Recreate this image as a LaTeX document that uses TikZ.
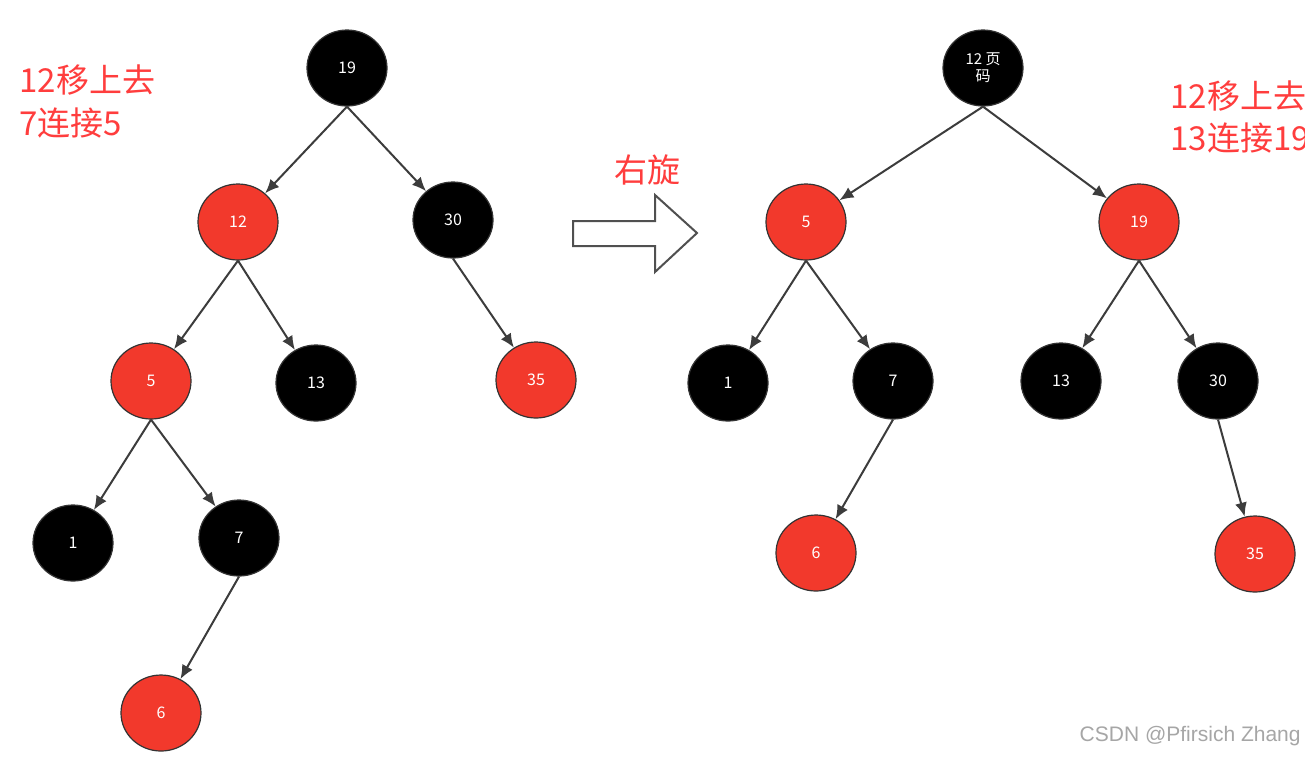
\documentclass[tikz,border=0pt]{standalone}
\usepackage{fontspec}
\setmainfont{Noto Sans CJK SC}
\newfontfamily\wmfont{Liberation Sans}
\usetikzlibrary{arrows.meta,shapes.geometric}
\definecolor{rbred}{HTML}{F2392C}
\definecolor{notered}{HTML}{FF3D3D}
\definecolor{edgegray}{HTML}{3C3C3C}
\tikzset{
    rbnode/.style={ellipse, minimum width=40pt, minimum height=38pt, inner sep=0pt,
        text=white, font=\fontsize{8}{9}\selectfont, draw=black!80, line width=0.6pt},
    blacknode/.style={rbnode, fill=black},
    rednode/.style={rbnode, fill=rbred},
    note/.style={text=notered, font=\fontsize{16.5}{21.5}\selectfont, align=left, inner sep=0pt},
    edge/.style={draw=edgegray, line width=1pt, -{Latex[length=7pt,width=6pt]}}
}
\begin{document}
\begin{tikzpicture}[x=0.5pt, y=-0.5pt]
    \useasboundingbox[fill=white] (0,0) rectangle (1305,757);

    % before the rotation
    \node[blacknode] (L19) at (347,68) {19};
    \node[rednode] (L12) at (238,222) {12};
    \node[blacknode] (L30) at (453,220) {30};
    \node[rednode] (L5) at (151,381) {5};
    \node[blacknode] (L13) at (316,383) {13};
    \node[rednode] (L35) at (536,380) {35};
    \node[blacknode] (L1) at (73,543) {1};
    \node[blacknode] (L7) at (239,538) {7};
    \node[rednode] (L6) at (161,713) {6};

    \draw[edge] (L19.south) -- (L12);
    \draw[edge] (L19.south) -- (L30);
    \draw[edge] (L12.south) -- (L5);
    \draw[edge] (L12.south) -- (L13);
    \draw[edge] (L30.south) -- (L35);
    \draw[edge] (L5.south) -- (L1);
    \draw[edge] (L5.south) -- (L7);
    \draw[edge] (L7.south) -- (L6);

    % after the rotation
    \node[blacknode, align=center, font=\fontsize{7.5}{8.5}\selectfont] (R12) at (983,68) {12 页\\码};
    \node[rednode] (R5) at (806,222) {5};
    \node[rednode] (R19) at (1139,222) {19};
    \node[blacknode] (R1) at (728,383) {1};
    \node[blacknode] (R7) at (893,381) {7};
    \node[blacknode] (R13) at (1061,381) {13};
    \node[blacknode] (R30) at (1218,381) {30};
    \node[rednode] (R6) at (816,553) {6};
    \node[rednode] (R35) at (1255,554) {35};

    \draw[edge] (R12.south) -- (R5);
    \draw[edge] (R12.south) -- (R19);
    \draw[edge] (R5.south) -- (R1);
    \draw[edge] (R5.south) -- (R7);
    \draw[edge] (R19.south) -- (R13);
    \draw[edge] (R19.south) -- (R30);
    \draw[edge] (R7.south) -- (R6);
    \draw[edge] (R30.south) -- (R35);

    % hollow arrow
    \draw[edgegray!90, line width=1pt, line join=miter]
        (573,221) -- (655,221) -- (655,195) -- (697,233) -- (655,272) -- (655,246) -- (573,246) -- cycle;
    \node[note] (rot) at (647,170) {右旋};

    % notes
    \node[note, anchor=west] (noteL1) at (19,80) {12移上去};
    \node[note, anchor=west] (noteL2) at (19,123) {7连接5};
    \node[note, anchor=west] (noteR1) at (1170,96) {12移上去};
    \node[note, anchor=west] (noteR2) at (1170,138) {13连接19};

    \node[anchor=east, text=black!35, font=\wmfont\fontsize{10.5}{12}\selectfont, inner sep=0pt] (wm) at (1301,736) {CSDN @Pfirsich Zhang};
\end{tikzpicture}
\end{document}
